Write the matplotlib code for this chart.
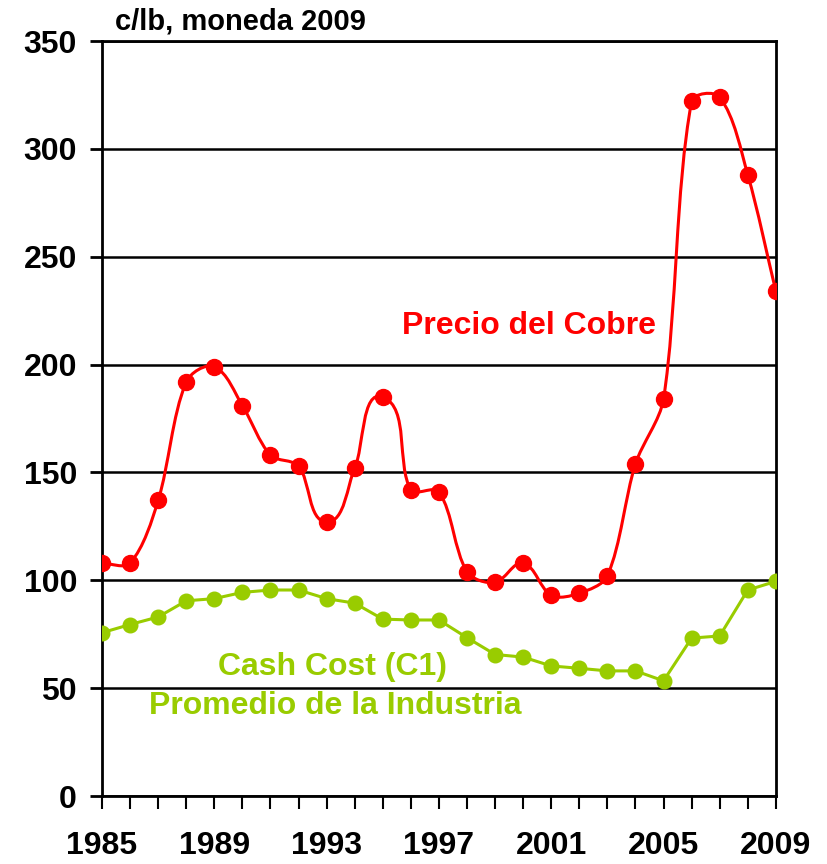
import numpy as np
import matplotlib.pyplot as plt
from matplotlib.path import Path
from matplotlib.patches import PathPatch

plt.rcParams['font.family'] = ['Liberation Sans', 'DejaVu Sans']

years = list(range(1985, 2010))
precio = [108, 108, 137, 192, 199, 181, 158, 153, 127, 152, 185, 142, 141,
          104, 99, 108, 93, 94, 102, 154, 184, 322, 324, 288, 234]
cash_cost = [75.7, 79.5, 83, 90.5, 91.5, 94.4, 95.5, 95.5, 91.5, 89.4, 82, 81.6, 81.6,
             73.4, 65.6, 64.4, 60.3, 59.2, 58, 58, 53.4, 73.2, 74.2, 95.5, 99.5]
year_labels = ['1985', '1989', '1993', '1997', '2001', '2005', '2009']

rojo = '#FF0000'
verde = '#99CC00'

fig = plt.figure(figsize=(8.28, 8.64), dpi=100)
ax = fig.add_axes([0.1232, 0.0787, 0.8138, 0.8738])


def suavizar(xs, ys, sx=28.08, sy=2.157, f=0.3):
    # curva suavizada tipo Excel: tangentes calculadas en escala de pantalla
    P = np.column_stack([xs, ys]).astype(float) * [sx, sy]
    n = len(P)
    tang = []
    for i in range(n):
        a = P[max(i - 1, 0)]
        b = P[min(i + 1, n - 1)]
        t = b - a
        tang.append(t / np.hypot(*t))
    verts = [P[0]]
    codes = [Path.MOVETO]
    for i in range(n - 1):
        d = np.hypot(*(P[i + 1] - P[i]))
        verts += [P[i] + tang[i] * d * f, P[i + 1] - tang[i + 1] * d * f, P[i + 1]]
        codes += [Path.CURVE4] * 3
    verts = np.array(verts) / [sx, sy]
    return Path(verts, codes)


ax.add_patch(PathPatch(suavizar(years, precio), facecolor='none', edgecolor=rojo,
                       lw=2.2, zorder=3))
ax.plot(years, precio, 'o', color=rojo, ms=11.5, zorder=4)

ax.plot(years, cash_cost, '-o', color=verde, lw=2.2, ms=10.5, zorder=4)

ax.set_xlim(1985, 2009)
ax.set_ylim(0, 350)
ax.set_yticks(range(0, 351, 50))
ax.set_xticks(range(1985, 2010, 4))
ax.set_xticklabels(year_labels)
ax.set_xticks(years, minor=True)
ax.grid(axis='y', color='black', lw=1.8)
for s in ax.spines.values():
    s.set_linewidth(2)
ax.tick_params(axis='y', which='major', direction='out', length=9, width=2, pad=9,
               labelsize=23)
ax.tick_params(axis='x', which='both', direction='out', length=9, width=1.5)
ax.tick_params(axis='x', which='major', pad=16, labelsize=23)
for lab in ax.get_xticklabels() + ax.get_yticklabels():
    lab.set_fontweight('bold')

fig.text(0.139, 0.975, 'c/lb, moneda 2009', fontsize=21, fontweight='bold', va='center')
ax.text(2000.2, 218, 'Precio del Cobre', color=rojo, fontsize=23, fontweight='bold',
        ha='center', va='center')
ax.text(1993.2, 60, 'Cash Cost (C1)', color=verde, fontsize=23, fontweight='bold',
        ha='center', va='center')
ax.text(1993.3, 41.5, 'Promedio de la Industria', color=verde, fontsize=23,
        fontweight='bold', ha='center', va='center')

fig.savefig('out.png', dpi=100)
